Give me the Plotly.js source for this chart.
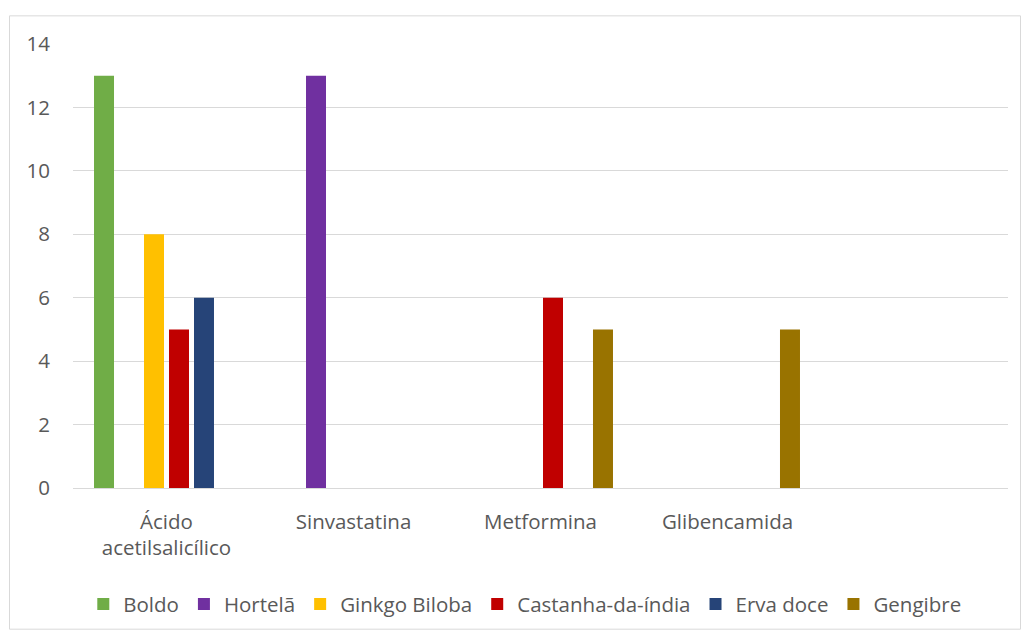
<!DOCTYPE html>
<html>
<head>
<meta charset="utf-8">
<script src="https://cdn.plot.ly/plotly-3.0.1.min.js"></script>
<style>html,body{margin:0;padding:0;background:#fff;}#chart{width:1025px;height:632px;}</style>
</head>
<body>
<div id="chart"></div>
<script>
var categories = ["Ácido<br>acetilsalicílico", "Sinvastatina", "Metformina", "Glibencamida"];
var seriesNames = ["Boldo", "Hortelã", "Ginkgo Biloba", "Castanha-da-índia", "Erva doce", "Gengibre"];
var boldo = [13, null, null, null];
var hortela = [null, 13, null, null];
var ginkgo = [8, null, null, null];
var castanha = [5, null, 6, null];
var ervaDoce = [6, null, null, null];
var gengibre = [null, null, 5, 5];
var yTicks = [0, 2, 4, 6, 8, 10, 12, 14];

var colors = ["#70AD47", "#7030A0", "#FFC000", "#C00000", "#264478", "#997300"];
var values = [boldo, hortela, ginkgo, castanha, ervaDoce, gengibre];

var traces = seriesNames.map(function (n, i) {
  return {
    type: "bar",
    name: n,
    x: categories,
    y: values[i],
    marker: { color: colors[i] },
    hoverinfo: "x+y+name"
  };
});

var font = { family: "'Open Sans', 'Noto Sans', sans-serif", size: 20.5, color: "#595959" };

var layout = {
  width: 1025,
  height: 632,
  margin: { l: 73, r: 17, t: 43.5, b: 143.5 },
  paper_bgcolor: "#ffffff",
  plot_bgcolor: "#ffffff",
  font: font,
  barmode: "group",
  bargap: 0.198,
  bargroupgap: 0.2,
  showlegend: true,
  legend: {
    orientation: "h",
    xref: "container",
    yref: "container",
    x: 0.512,
    xanchor: "center",
    y: 0.044,
    yanchor: "middle",
    font: font,
    itemwidth: 30,
    traceorder: "normal"
  },
  xaxis: {
    type: "category",
    automargin: false,
    range: [-0.5, 4.5],
    showgrid: false,
    showline: true,
    linecolor: "#d9d9d9",
    linewidth: 1,
    ticks: "",
    ticklabelstandoff: 15,
    tickfont: font,
    fixedrange: true
  },
  yaxis: {
    automargin: false,
    range: [0, 14],
    tickvals: yTicks,
    showgrid: true,
    gridcolor: "#d9d9d9",
    gridwidth: 1,
    zeroline: false,
    showline: false,
    ticks: "",
    ticklabelstandoff: 22,
    tickfont: font,
    fixedrange: true
  },
  shapes: [{
    type: "rect",
    xref: "paper",
    yref: "paper",
    x0: -0.0679, x1: 1.0134,
    y0: -0.318, y1: 1.0634,
    line: { color: "#d9d9d9", width: 1 },
    fillcolor: "rgba(0,0,0,0)",
    layer: "below"
  }]
};

Plotly.newPlot("chart", traces, layout, { displayModeBar: false, staticPlot: true });
</script>
</body>
</html>
